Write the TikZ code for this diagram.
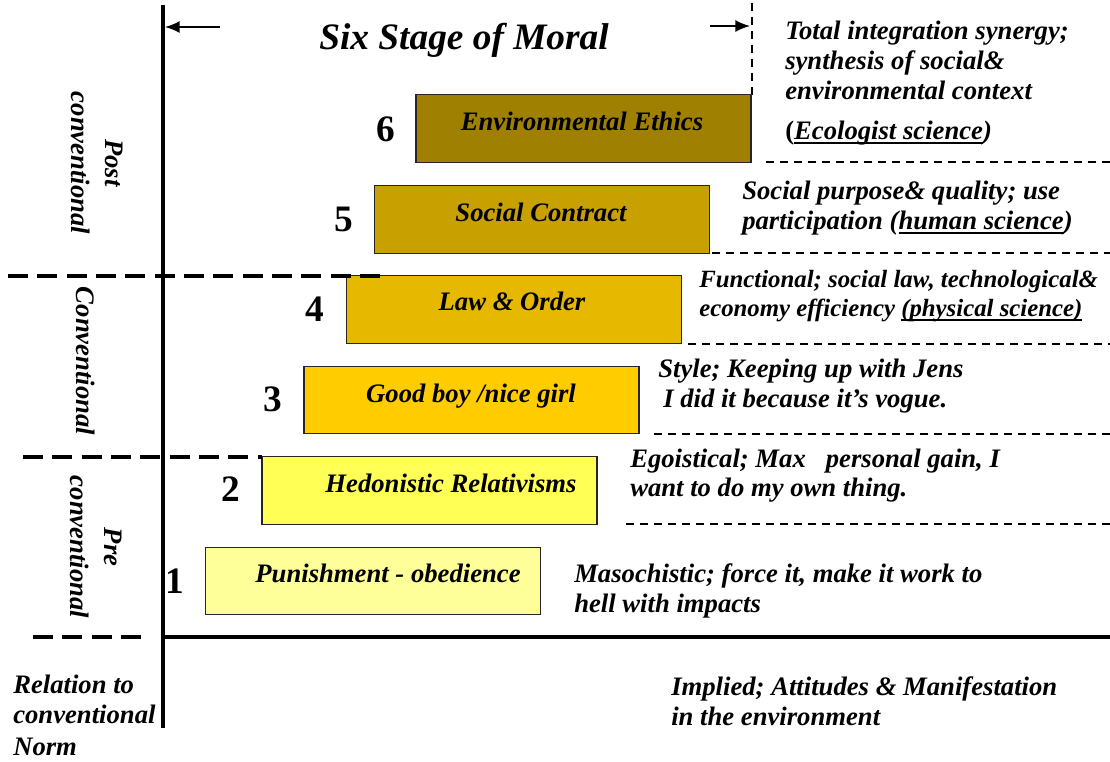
\documentclass[tikz,border=0pt]{standalone}
\usepackage{fontspec}
\setmainfont{Liberation Serif}
\usetikzlibrary{arrows.meta}
\definecolor{cA}{RGB}{160,128,0}
\definecolor{cB}{RGB}{200,160,0}
\definecolor{cC}{RGB}{230,184,0}
\definecolor{cD}{RGB}{255,204,0}
\definecolor{cE}{RGB}{255,255,85}
\definecolor{cF}{RGB}{255,255,153}
\newcommand{\thickul}[1]{\setbox0\hbox{#1}\rlap{\rule[-3.2pt]{\wd0}{1.4pt}}\box0}
\begin{document}
\begin{tikzpicture}[x=0.75pt,y=-0.75pt,
  stagebox/.style={draw=black!85, line width=0.9pt, inner sep=0, minimum width=251.25pt, minimum height=50.6pt},
  boxtext/.style={anchor=base, inner sep=0, font=\fontsize{20}{23}\selectfont\bfseries\itshape},
  numtext/.style={anchor=base, inner sep=0, font=\fontsize{28}{32}\selectfont\bfseries},
  rtext/.style={anchor=base west, inner sep=0, font=\fontsize{20}{23}\selectfont\bfseries\itshape},
  rtextsmall/.style={anchor=base west, inner sep=0, font=\fontsize{18.6}{22}\selectfont\bfseries\itshape},
  sidelabel/.style={rotate=-90, align=center, inner sep=0, font=\fontsize{20}{25}\selectfont\bfseries\itshape},
  thickdash/.style={line width=2.6pt, dash pattern=on 15pt off 7pt},
  thindash/.style={line width=0.9pt, dash pattern=on 6pt off 4.5pt},
  axis/.style={line width=2.4pt}
]
\useasboundingbox (0,0) rectangle (1110,762);

% axes
\coordinate (axtop) at (163,5);
\coordinate (axbot) at (163,728);
\coordinate (hxl) at (163,637);
\coordinate (hxr) at (1110,637);
\draw[axis] (axtop) -- (axbot);
\draw[line width=3pt] (hxl) -- (hxr);

% title arrows
\coordinate (la) at (220,27); \coordinate (lb) at (165,27);
\coordinate (ra) at (710,26); \coordinate (rb) at (750,26);
\draw[line width=1.2pt, -{Latex[length=11pt,width=9pt]}] (la) -- (lb);
\draw[line width=1.2pt, -{Latex[length=11pt,width=9pt]}] (ra) -- (rb);
\coordinate (va) at (752,3); \coordinate (vb) at (752,95);
\draw[thindash] (va) -- (vb);

\node[anchor=base, inner sep=0, font=\fontsize{28}{32}\selectfont\bfseries\itshape] (title) at (464,50) {Six Stage of Moral};

% stage boxes
\node[stagebox, fill=cA] (s6) at (583.5,128.5) {};
\node[stagebox, fill=cB] (s5) at (542,219.5) {};
\node[stagebox, fill=cC] (s4) at (514,309.5) {};
\node[stagebox, fill=cD] (s3) at (471.5,400) {};
\node[stagebox, fill=cE] (s2) at (429.5,490.5) {};
\node[stagebox, fill=cF] (s1) at (373,581) {};

\node[boxtext] (t6) at (582,131) {Environmental Ethics};
\node[boxtext] (t5) at (541,222) {Social Contract};
\node[boxtext] (t4) at (512,311) {Law \& Order};
\node[boxtext] (t3) at (471,403) {Good boy /nice girl};
\node[boxtext] (t2) at (451,493) {Hedonistic Relativisms};
\node[boxtext] (t1) at (388,582) {Punishment - obedience};

\node[numtext] (n6) at (386,142) {6};
\node[numtext] (n5) at (344,232) {5};
\node[numtext] (n4) at (315,322) {4};
\node[numtext] (n3) at (273,412) {3};
\node[numtext] (n2) at (231,502) {2};
\node[numtext] (n1) at (175,593) {1};

% thick dashed separators
\coordinate (d1a) at (8,276);   \coordinate (d1b) at (387,276);
\coordinate (d2a) at (23,457);  \coordinate (d2b) at (262,457);
\coordinate (d3a) at (33,637);  \coordinate (d3b) at (150,637);
\draw[thickdash] (d1a) -- (d1b);
\draw[thickdash] (d2a) -- (d2b);
\draw[thickdash] (d3a) -- (d3b);

% right dashed lines
\coordinate (r1a) at (766,162); \coordinate (r1b) at (1110,162);
\coordinate (r2a) at (712,253); \coordinate (r2b) at (1110,253);
\coordinate (r3a) at (688,344); \coordinate (r3b) at (1110,344);
\coordinate (r4a) at (654,434); \coordinate (r4b) at (1110,434);
\coordinate (r5a) at (626,524); \coordinate (r5b) at (1110,524);
\draw[thindash] (r1a) -- (r1b);
\draw[thindash] (r2a) -- (r2b);
\draw[thindash] (r3a) -- (r3b);
\draw[thindash] (r4a) -- (r4b);
\draw[thindash] (r5a) -- (r5b);

% right descriptions
\node[rtext] (a61) at (785,40) {Total integration synergy;};
\node[rtext] (a62) at (785,70) {synthesis of social\&};
\node[rtext] (a63) at (785,100) {environmental context};
\node[rtext] (a64) at (785,140) {{\upshape(}\thickul{Ecologist science})};
\node[rtext] (a51) at (742,200) {Social purpose\& quality; use};
\node[rtext] (a52) at (742,230) {participation (\thickul{human science})};
\node[rtextsmall] (a41) at (699,288) {Functional; social law, technological\&};
\node[rtextsmall] (a42) at (699,317) {economy efficiency \thickul{(physical science)}};
\node[rtext] (a31) at (658,378) {Style; Keeping up with Jens};
\node[rtext] (a32) at (663,408) {I did it because it's vogue.};
\node[rtext] (a21) at (630,468) {Egoistical; Max\ \ \ personal gain, I};
\node[rtext] (a22) at (630,497) {want to do my own thing.};
\node[rtext] (a11) at (574,582) {Masochistic; force it, make it work to};
\node[rtext] (a12) at (574,612) {hell with impacts};
\node[rtext] (b1) at (671,695) {Implied; Attitudes \& Manifestation};
\node[rtext] (b2) at (671,725) {in the environment};
\node[rtext] (c1) at (13,693) {Relation to};
\node[rtext] (c2) at (13,723) {conventional};
\node[rtext] (c3) at (13,755) {Norm};

% side labels
\node[sidelabel] (post) at (97,163) {Post\\conventional};
\node[sidelabel] (conv) at (86,361) {Conventional};
\node[sidelabel] (pre) at (96,547) {Pre\\conventional};
\end{tikzpicture}
\end{document}
